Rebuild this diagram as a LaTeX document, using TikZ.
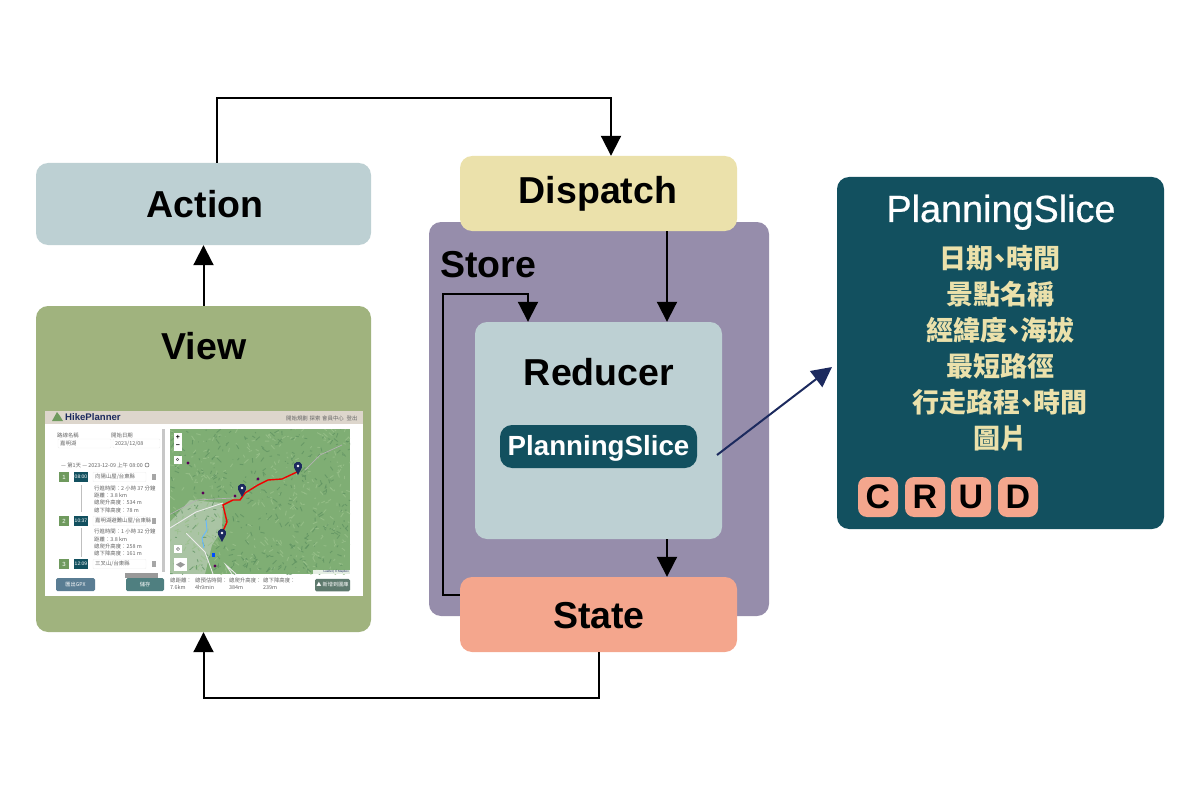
\documentclass[tikz,border=0pt]{standalone}
\usepackage{fontspec}
\setmainfont{Liberation Sans}
\newfontfamily\cjkfont{Noto Sans CJK TC}
\newfontfamily\midfont[FakeBold=0.6]{Liberation Sans}
\newcommand{\dun}{\kern-.26em、\kern-.26em}
\usetikzlibrary{arrows.meta,positioning}
\definecolor{actionblue}{HTML}{BDD0D3}
\definecolor{viewgreen}{HTML}{A0B37E}
\definecolor{storepurple}{HTML}{968DAB}
\definecolor{dispatchyellow}{HTML}{EBE1AB}
\definecolor{statesalmon}{HTML}{F4A68D}
\definecolor{sliceteal}{HTML}{12505F}
\definecolor{linknavy}{HTML}{1C2A5E}
\definecolor{shotbar}{HTML}{DDD6CC}
\definecolor{mapgreen}{HTML}{7FAE74}
\definecolor{maplight}{HTML}{98C08A}
\definecolor{mapdark}{HTML}{5E9161}
\definecolor{shotgreen}{HTML}{6F9A5E}
\definecolor{shotgrey}{HTML}{666666}
\definecolor{gpxblue}{HTML}{5A7D93}
\definecolor{savegreen}{HTML}{4F7F80}
\definecolor{albumgreen}{HTML}{5E7A6E}
\begin{document}
\begin{tikzpicture}[x=1pt,y=-1pt,
  main box/.style={rectangle,rounded corners=12pt,inner sep=0pt},
  title text/.style={font=\fontsize{37.5}{37.5}\selectfont\bfseries,text=black,inner sep=0pt,anchor=base},
  link/.style={draw=black,line width=2pt,-{Triangle[length=20pt,width=20pt]}},
  attr text/.style={font=\fontsize{27}{27}\selectfont\cjkfont\bfseries,text=dispatchyellow,inner sep=0pt},
  crud key/.style={rectangle,rounded corners=9pt,fill=statesalmon,minimum size=40pt,inner sep=0pt,
    font=\fontsize{34}{34}\selectfont\bfseries,text=black},
  tiny text/.style={font=\fontsize{5.4}{5.4}\selectfont\cjkfont,text=shotgrey,inner sep=0pt},
  tiny left/.style={tiny text,anchor=west},
  shot field/.style={rectangle,fill=white,inner sep=0pt,rounded corners=1pt},
  shot button/.style={rectangle,rounded corners=1.5pt,inner sep=0pt,text=white,
    font=\fontsize{5.2}{5.2}\selectfont\cjkfont},
  map button/.style={rectangle,fill=white,inner sep=0pt,minimum size=8.5pt,text=black,
    font=\fontsize{7}{7}\selectfont\bfseries}]
  \useasboundingbox (0,0) rectangle (1200,797);

  \node[main box,fill=actionblue,minimum width=335pt,minimum height=82pt] (Act) at (203.5,204) {};
  \node[title text] (ActT) at (205,218) {Action};
  \node[main box,fill=viewgreen,minimum width=335pt,minimum height=326pt] (View) at (203.5,469) {};
  \node[title text] (ViewT) at (204,359) {View};

  \node[main box,fill=storepurple,minimum width=340pt,minimum height=394pt] (Store) at (599,419) {};
  \node[title text] (StoreT) at (488,277) {Store};
  \node[main box,fill=dispatchyellow,minimum width=277pt,minimum height=75pt] (Disp) at (598.5,193.5) {};
  \node[title text] (DispT) at (598,204) {Dispatch};
  \node[main box,fill=actionblue,minimum width=247pt,minimum height=217pt] (Red) at (598.5,430.5) {};
  \node[title text] (RedT) at (599,385) {Reducer};
  \node[main box,fill=sliceteal,minimum width=197pt,minimum height=43pt] (Chip) at (598.5,446.5) {};
  \node[font=\fontsize{27.7}{27.7}\selectfont\bfseries,text=white,inner sep=0pt,anchor=base] (ChipT) at (598.5,455) {PlanningSlice};
  \node[main box,fill=statesalmon,minimum width=277pt,minimum height=75pt] (State) at (598.5,614.5) {};
  \node[title text] (StateT) at (599,628) {State};

  \node[main box,fill=sliceteal,minimum width=327pt,minimum height=352pt] (Panel) at (1000.5,353) {};
  \node[font=\fontsize{37.8}{37.8}\selectfont\midfont,text=white,inner sep=0pt,anchor=base] (PanelT) at (1001,222) {PlanningSlice};
  \foreach \i/\y/\t in {1/258/日期\dun 時間,2/294/景點名稱,3/330/經緯度\dun 海拔,4/366/最短路徑,5/402/行走路程\dun 時間,6/438/圖片}
    \node[attr text] (Attr\i) at (1000,\y) {\t};
  \foreach \i/\x/\t in {1/878/C,2/925/R,3/971/U,4/1018/D}
    \node[crud key] (Key\i) at (\x,497) {\t};

  \draw[link] (View.north) -- (Act.south);
  \draw[link] ([xshift=13.5pt]Act.north) -- ++(0,-65) -| ([xshift=12.5pt]Disp.north);
  \draw[link] ([xshift=68.5pt]Disp.south) -- ([xshift=68.5pt]Red.north);
  \draw[link] ([xshift=68.5pt]Red.south) -- ([xshift=68.5pt]State.north);
  \draw[link] ([yshift=19.5pt]State.west) -- ++(-17,0) -- ++(0,-301) -| ([xshift=-70.5pt]Red.north);
  \draw[link] (State.south) -- ++(0,46) -| (View.south);
  \coordinate (SliceTail) at (717,455);
  \coordinate (SliceHead) at (832,367);
  \draw[link,draw=linknavy,fill=linknavy] (SliceTail) -- (SliceHead);

  % app screenshot
  \fill[white] (44.5,411) rectangle (363,596);
  \fill[shotbar] (44.5,411) rectangle (363,424);
  \fill[shotgreen] (52,421) -- (57,412) -- (60,416) -- (63,421) -- cycle;
  \node[font=\fontsize{9.6}{9.6}\selectfont\bfseries,text=linknavy,inner sep=0pt,anchor=west] (Logo) at (65,417.5) {HikePlanner};
  \foreach \i/\x/\t in {1/297/開始規劃,2/315/探索,3/333/會員中心,4/352/登出}
    \node[tiny text] (Nav\i) at (\x,418) {\t};

  \fill[black!22] (162,429) rectangle (164.5,572);
  \node[tiny text] (NameL) at (68,435.5) {路線名稱};
  \node[tiny text] (DateL) at (122,435.5) {開始日期};
  \node[shot field,draw=black!6,minimum width=53pt,minimum height=9pt] (NameF) at (84.5,443.5) {};
  \node[shot field,draw=black!6,minimum width=47pt,minimum height=9pt] (DateF) at (136.5,443.5) {};
  \node[tiny left] (NameV) at (60,443.5) {嘉明湖};
  \node[tiny left] (DateV) at (115,443.5) {2023/12/08};
  \node[tiny text] (DayT) at (102,465) {— 第1天 — 2023-12-09 上午 08:00};
  \draw[shotgrey,line width=.5pt] (147,465) circle (2pt);
  \draw[black!25,line width=.8pt] (81,485) -- (81,512) (81,528) -- (81,557);
  \foreach \i/\y/\h/\t in {1/477/08:00/{向陽山屋/台東縣},2/521/10:37/{嘉明湖避難山屋/台東縣},3/564/12:09/{三叉山/台東縣}}{
    \node[rectangle,fill=shotgreen,minimum size=9.5pt,inner sep=0pt,text=white,font=\fontsize{6}{6}\selectfont] (Num\i) at (64,\y) {\i};
    \node[rectangle,fill=sliceteal,minimum width=14pt,minimum height=9.5pt,inner sep=0pt,text=white,font=\fontsize{5}{5}\selectfont] (Time\i) at (81,\y) {\h};
    \node[shot field,draw=black!6,minimum width=53pt,minimum height=9.5pt] (Stop\i) at (119.5,\y) {};
    \node[tiny left] (StopT\i) at (95,\y) {\t};
    \node[rectangle,fill=black!35,minimum width=4pt,minimum height=5.5pt,inner sep=0pt] (Bin\i) at (154,\y) {};
  }
  \foreach \i/\y/\t in {1/488/行進時間：2 小時 37 分鐘,2/495/距離：3.8 km,3/502.5/總爬升高度：534 m,4/510/總下降高度：78 m,
    5/531/行進時間：1 小時 32 分鐘,6/539/距離：3.8 km,7/546/總爬升高度：258 m,8/553.5/總下降高度：161 m}
    \node[tiny left] (Info\i) at (94,\y) {\t};
  \fill[black!40] (125,573) rectangle (158,578);
  \node[shot button,fill=gpxblue,minimum width=39pt,minimum height=13pt] (Gpx) at (75.5,584.5) {匯出GPX};
  \node[shot button,fill=savegreen,minimum width=38pt,minimum height=13pt] (Save) at (145,584.5) {儲存};

  % map
  \begin{scope}
    \clip (170,429) rectangle (350,574);
    \fill[mapgreen] (170,429) rectangle (350,574);
    \fill[black!12,opacity=.45] (170,522) -- (190,500) -- (223,503) -- (222,530) -- (212,545) -- (205,574) -- (170,574) -- cycle;
    \pgfmathsetseed{17}
    \foreach \k in {1,...,700}{
      \pgfmathsetmacro\px{170+rnd*180}
      \pgfmathsetmacro\py{429+rnd*145}
      \pgfmathsetmacro\dx{(rnd-.5)*9}
      \pgfmathsetmacro\dy{(rnd-.5)*9}
      \ifodd\k
        \draw[mapdark,line width=.9pt,opacity=.7] (\px,\py) -- ++(\dx,\dy);
      \else
        \draw[maplight,line width=.9pt,opacity=.8] (\px,\py) -- ++(\dx,\dy);
      \fi
    }
    \draw[black!8,line width=.9pt] (170,528) -- (196,512) -- (223,503) (186,533) -- (205,552) -- (213,574) (232,574) -- (226,565) -- (236,574);
    \draw[black!30,line width=.7pt] (165,517) -- (197,500) -- (233,498) (305,470) -- (320,455) -- (342,445);
    \draw[blue!45!cyan!60,line width=.9pt] (206,520) -- (207,530) -- (202,538) -- (204,548);
    \draw[red!95!black,line width=1.4pt] plot coordinates {(222,533) (227,522) (223,505) (233,500) (240,500) (245,493) (258,485) (268,480) (282,479) (297,472)};
    \foreach \x/\y in {188/463,203/493,235/496,258/479,215/566}
      \fill[violet!70!black] (\x,\y) circle (1.6pt);
    \fill[blue!70!cyan] (212,553) rectangle (215,557);
    \foreach \x/\y in {222/533,242/488,298/466}{
      \fill[linknavy] (\x,\y+9) -- (\x-4,\y+1.5) arc[start angle=200,end angle=-20,radius=4.25pt] -- cycle;
      \fill[white] (\x,\y) circle (1.4pt);
    }
    \fill[white,opacity=.8] (313,570) rectangle (350,574);
  \end{scope}
  \node[map button] (ZoomIn) at (178,437.5) {+};
  \node[map button] (ZoomOut) at (178,446.5) {−};
  \node[map button] (Find) at (178,460) {};
  \node[map button] (Cam) at (178,549) {};
  \node[map button,minimum size=13pt] (Layer) at (180.5,564.5) {};
  \fill[black!40] (176,564.5) -- (180.5,562) -- (185,564.5) -- (180.5,567.5) -- cycle;
  \draw[shotgrey,line width=.5pt] (178,549) circle (1.6pt) (177.5,459.5) circle (1.2pt);
  \node[font=\fontsize{3}{3}\selectfont,text=linknavy,inner sep=0pt,anchor=east] (Attrib) at (349,572) {Leaflet | © Mapbox};
  \foreach \i/\x/\a/\b in {1/170/總距離：/7.6km,2/195/總預估時間：/4h9min,3/229/總爬升高度：/384m,4/263/總下降高度：/239m}{
    \node[tiny left] (Sum\i) at (\x,580) {\a};
    \node[tiny left] (Val\i) at (\x,587.5) {\b};
  }
  \node[shot button,fill=albumgreen,minimum width=35pt,minimum height=12.5pt] (Album) at (332.5,585) {▲ 新增到圖庫};
\end{tikzpicture}
\end{document}
